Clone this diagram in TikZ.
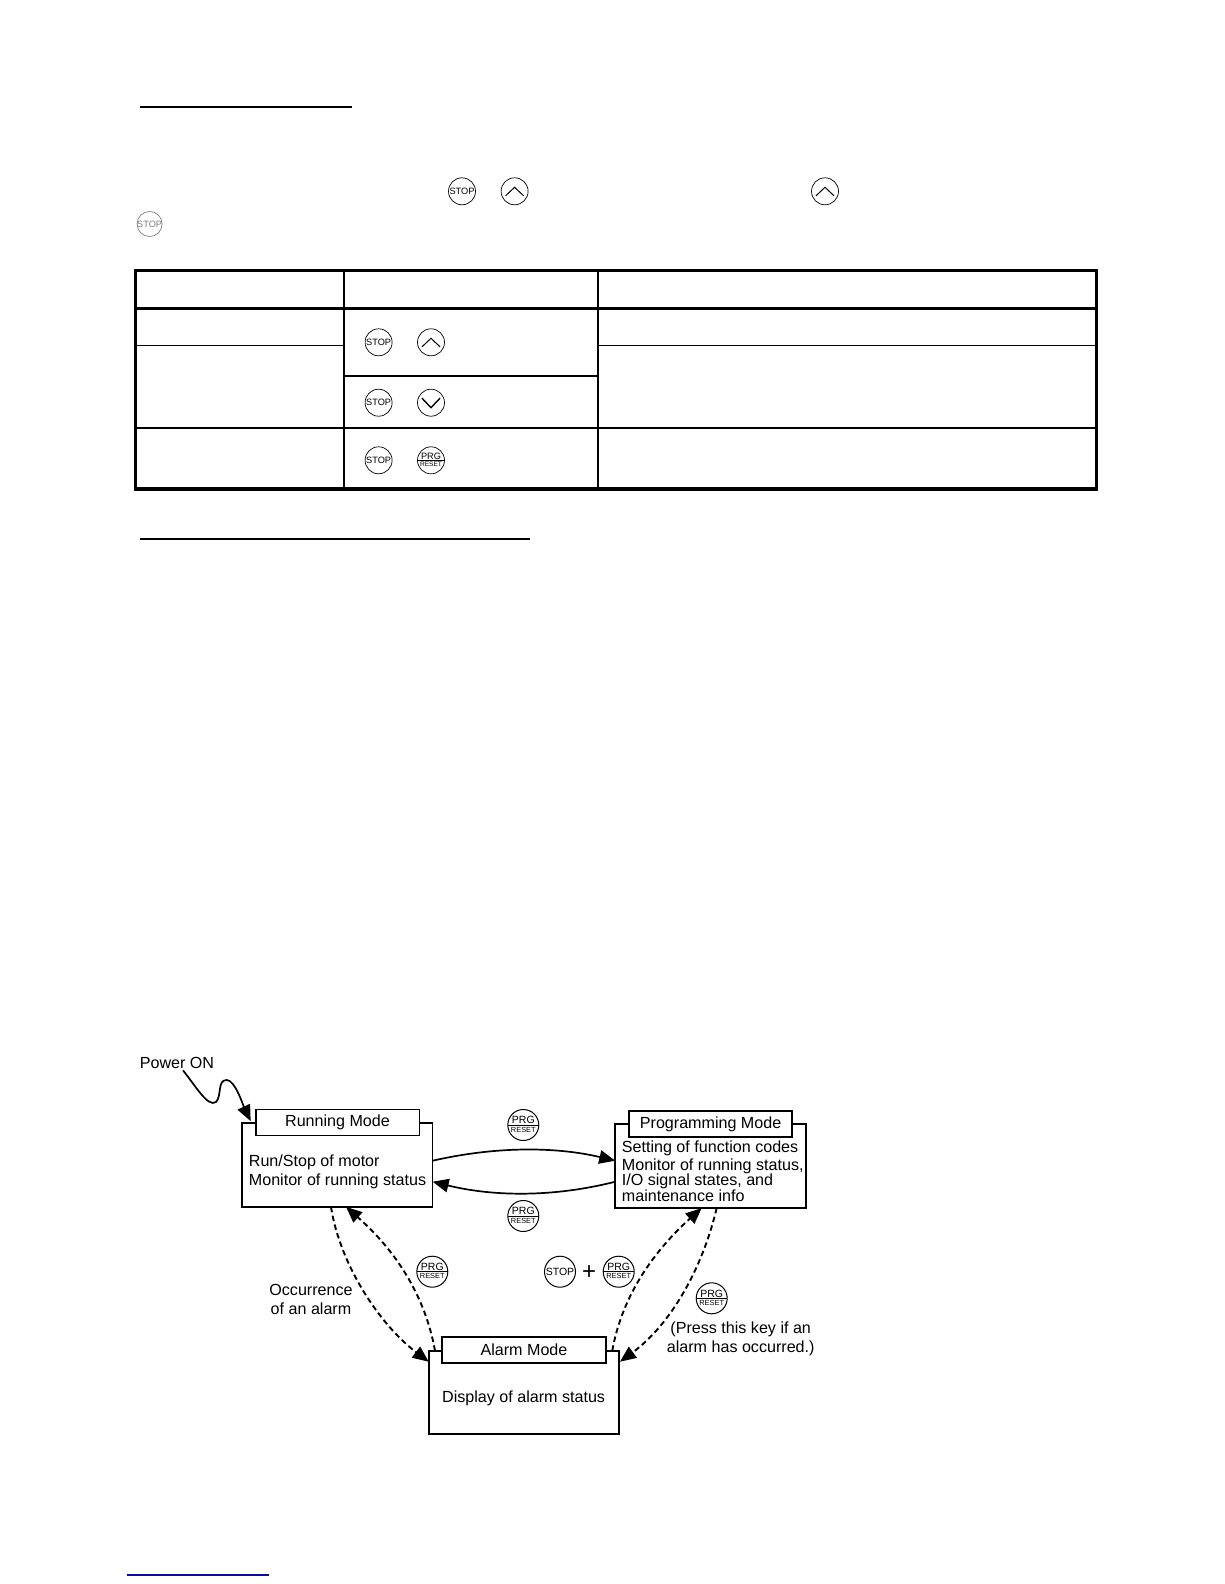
\documentclass[tikz,border=0pt]{standalone}
\usepackage{fontspec}
\setmainfont{Liberation Sans}
\usetikzlibrary{arrows.meta}
\definecolor{linkblue}{RGB}{10,10,170}
\tikzset{
  modebox/.style={rectangle, draw=black, fill=white, line width=1.6pt, inner sep=0pt, outer sep=0pt},
  modetext/.style={anchor=west, inner sep=0pt, font=\fontsize{16.1}{18}\selectfont},
  freetext/.style={inner sep=0pt, font=\fontsize{16.1}{18}\selectfont},
  keyround/.style={circle, draw=black, fill=white, minimum size=27pt, inner sep=0pt, outer sep=0pt, line width=0.7pt},
  keyword/.style={inner sep=0pt, font=\fontsize{9.2}{10}\selectfont},
  keysmall/.style={inner sep=0pt, font=\fontsize{6.6}{8}\selectfont},
  solidarrow/.style={line width=1.7pt, -{Triangle[length=16pt,width=13.5pt]}},
  dashedarrow/.style={line width=1.9pt, dash pattern=on 5.5pt off 3.5pt, -{Triangle[length=16pt,width=13.5pt]}},
  tablethick/.style={line width=3.2pt},
  tablemid/.style={line width=2pt},
  tablethin/.style={line width=1pt}
}
% name, centre, size
\newcommand{\stopkey}[3][keyround]{
    \node[#1] (#2) at (#3) {};
    \node[keyword] (#2text) at (#2.center) {STOP};
}
\newcommand{\upkey}[2]{
    \node[keyround] (#1) at (#2) {};
    \draw[line width=1pt] ([xshift=-9pt,yshift=-4.5pt]#1.center) -- ([yshift=4pt]#1.center) -- ([xshift=9pt,yshift=-4.5pt]#1.center);
}
\newcommand{\downkey}[2]{
    \node[keyround] (#1) at (#2) {};
    \draw[line width=1.4pt] ([xshift=-9pt,yshift=4.5pt]#1.center) -- ([yshift=-5pt]#1.center) -- ([xshift=9pt,yshift=4.5pt]#1.center);
}
\newcommand{\prgkey}[3][13.5]{
    \node[keyround, minimum size=2*#1 pt] (#2) at (#3) {};
    \draw[line width=0.9pt] (#2.west) -- (#2.east);
    \node[keyword, anchor=south] (#2top) at ([yshift=1pt]#2.center) {PRG};
    \node[keysmall, anchor=north] (#2bot) at ([yshift=-1.8pt]#2.center) {RESET};
}

\begin{document}
\begin{tikzpicture}[x=1pt, y=-1pt]
            \useasboundingbox (0,0) rectangle (1224,1584);
            \fill[white] (0,0) rectangle (1224,1584);

            % --- Upper part of the page ---
            \draw[line width=2pt] (140,106.7) -- (352,106.7);
            \draw[line width=2pt] (140,538.7) -- (530,538.7);
            \draw[linkblue, line width=1.4pt] (127,1575) -- (269,1575);

            \stopkey{linestop}{462,191.3}
            \upkey{lineup}{514.6,191.3}
            \upkey{lineupb}{825,191.3}
            \node[keyround, minimum size=25pt, draw=gray, text=gray] (fadedstop) at (149.6,224) {};
            \node[keyword, text=gray] (fadedstoptext) at (fadedstop.center) {STOP};

            % --- Table ---
            \draw[tablethick] (135.7,270.3) rectangle (1096.7,489);
            \draw[tablethick] (135.7,308.3) -- (1096.7,308.3);
            \foreach \colx in {343.6, 597.9} {
                \draw[tablemid] (\colx,270.3) -- (\colx,489);
            }
            \draw[tablemid] (135.7,428) -- (1096.7,428);
            \draw[tablemid] (343.6,375.7) -- (597.9,375.7);
            \draw[tablethin] (135.7,345.3) -- (343.6,345.3);
            \draw[tablethin] (597.9,345.3) -- (1096.7,345.3);

            \stopkey{rowastop}{378.6,342.3}
            \upkey{rowaup}{431,342.3}
            \stopkey{rowbstop}{378.6,402.7}
            \downkey{rowbdown}{431,402.7}
            \stopkey{rowcstop}{378.6,460.3}
            \prgkey{rowcprg}{431,460.3}

            % --- Mode boxes ---
            \node[modebox, minimum width=190.7pt, minimum height=83.7pt] (running) at (337.3,1165) {};
            \node[modebox, minimum width=163.6pt, minimum height=26pt, freetext] (runningtitle) at (337.5,1122.3) {Running Mode};
            \node[modetext] (runninga) at (248.7,1162) {Run/Stop of motor};
            \node[modetext] (runningb) at (248.7,1181) {Monitor of running status};

            \node[modebox, minimum width=190.7pt, minimum height=84pt] (programming) at (710.6,1166) {};
            \node[modebox, minimum width=163.3pt, minimum height=26.3pt, freetext] (programmingtitle) at (710.6,1124) {Programming Mode};
            \foreach \name/\ypos/\line in {
                proga/1148.5/Setting of function codes,
                progb/1166.8/{Monitor of running status,},
                progc/1181.2/{I/O signal states, and},
                progd/1195.5/maintenance info
            } {
                \node[modetext] (\name) at (621.7,\ypos) {\line};
            }

            \node[modebox, minimum width=190pt, minimum height=83pt] (alarm) at (523.7,1392.2) {};
            \node[modebox, minimum width=164pt, minimum height=26pt, freetext] (alarmtitle) at (524,1349.7) {Alarm Mode};
            \node[modetext] (alarma) at (442,1398) {Display of alarm status};

            % --- Labels and keys of the diagram ---
            \node[freetext] (powerlabel) at (177,1062.5) {Power ON};
            \node[freetext] (occura) at (311,1289.8) {Occurrence};
            \node[freetext] (occurb) at (311,1309) {of an alarm};
            \node[freetext] (pressa) at (740.7,1329) {(Press this key if an};
            \node[freetext] (pressb) at (740.7,1348) {alarm has occurred.)};

            \begin{scope}[keyword/.style={inner sep=0pt, font=\fontsize{10.5}{12}\selectfont}, keysmall/.style={inner sep=0pt, font=\fontsize{7.4}{9}\selectfont}, keyround/.append style={line width=1pt}]
                \prgkey[15.5]{keytop}{523.3,1125}
                \prgkey[15.5]{keybottom}{523.3,1216}
                \prgkey[15.5]{keyleft}{432.3,1271.7}
                \prgkey[15.5]{keymiddle}{618.7,1271.7}
                \prgkey[15.5]{keyright}{711.7,1298.3}
                \stopkey[keyround, minimum size=31pt]{keystop}{560,1271.7}
            \end{scope}
            \node[inner sep=0pt, font=\fontsize{24}{26}\selectfont] (keyplus) at (589,1273) {+};

            % --- Connectors ---
            \draw[solidarrow] ([xshift=6pt,yshift=-2pt]powerlabel.south) .. controls (195,1085) and (208,1108) .. (216,1102) .. controls (222,1096) and (217,1080) .. (226.7,1080) .. controls (235,1080) and (243,1105) .. ([xshift=8.7pt,yshift=2pt]running.north west);

            \draw[solidarrow] ([yshift=4.3pt]running.east) .. controls (495,1146.4) and (555,1146.4) .. ([yshift=5.3pt]programming.west);
            \draw[solidarrow] ([yshift=-15.7pt]programming.west) .. controls (555,1197) and (495,1197) .. ([yshift=-16.7pt]running.east);

            \draw[dashedarrow] ([xshift=-6.3pt]running.south) .. controls (340,1265) and (380,1325) .. ([yshift=-11pt]alarm.north west);
            \draw[dashedarrow] ([xshift=6.3pt]alarm.north west) .. controls (425,1295) and (395,1250) .. ([xshift=8.7pt]running.south);
            \draw[dashedarrow] ([xshift=-6.4pt]alarm.north east) .. controls (622,1295) and (655,1250) .. ([xshift=-8.9pt]programming.south);
            \draw[dashedarrow] ([xshift=6.1pt]programming.south) .. controls (702,1270) and (670,1325) .. ([xshift=1.3pt,yshift=-11pt]alarm.north east);

\end{tikzpicture}
\end{document}
